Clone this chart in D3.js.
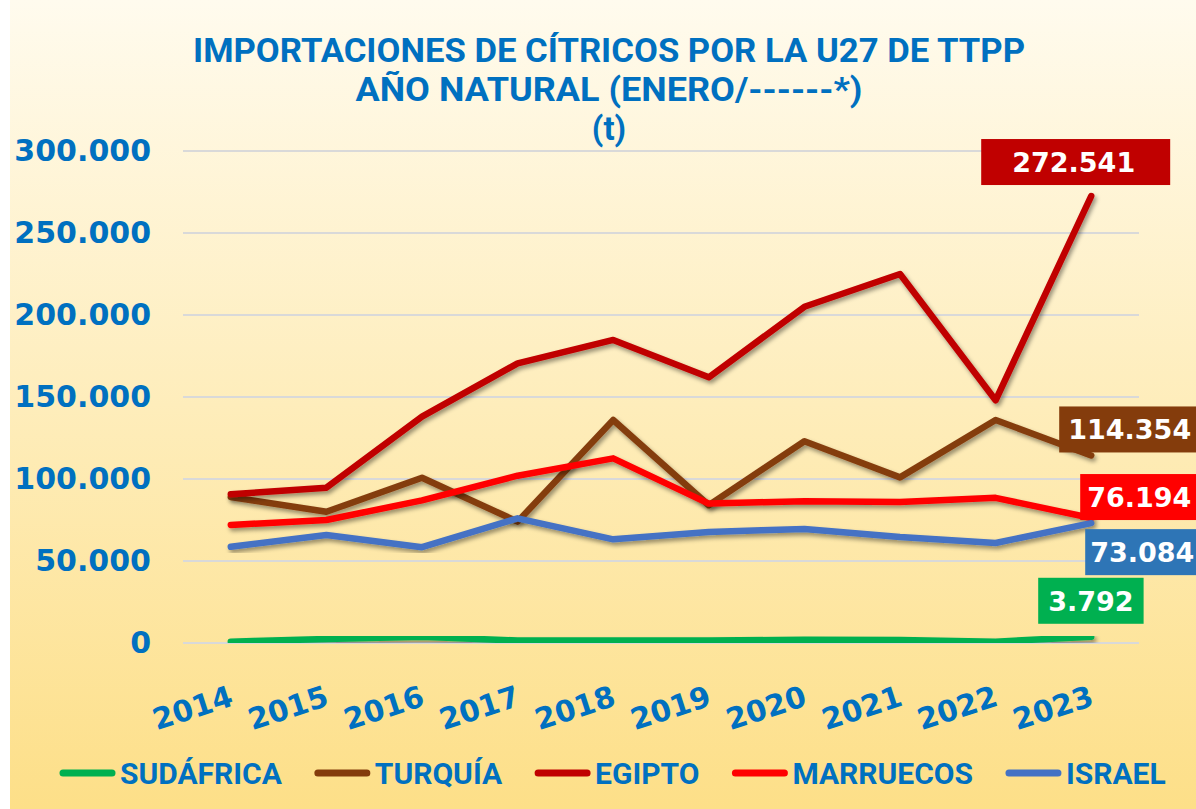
<!DOCTYPE html>
<html>
<head>
<meta charset="utf-8">
<script src="https://cdn.jsdelivr.net/npm/d3@7"></script>
<style>
  html, body { margin: 0; padding: 0; background: #fff; }
  svg { display: block; }
</style>
</head>
<body>
<svg id="chart" width="1196" height="809"></svg>
<script>
// Data
const years = ["2014", "2015", "2016", "2017", "2018", "2019", "2020", "2021", "2022", "2023"];
const seriesNames = ["SUDÁFRICA", "TURQUÍA", "EGIPTO", "MARRUECOS", "ISRAEL"];
const sudafrica = [800, 2500, 3800, 1500, 1500, 1500, 2000, 1800, 800, 3792];
const turquia = [89000, 80000, 100800, 74000, 136000, 84000, 123000, 101000, 136000, 114354];
const egipto = [90700, 94700, 138000, 170500, 184800, 162000, 205000, 225000, 148000, 272541];
const marruecos = [72000, 75000, 87000, 102000, 112600, 85000, 86500, 86000, 88500, 76194];
const israel = [58700, 65900, 58400, 76000, 63200, 67700, 69500, 64600, 61000, 73084];
const yTicks = [0, 50000, 100000, 150000, 200000, 250000, 300000];
const titleLines = ["IMPORTACIONES DE CÍTRICOS POR LA U27 DE TTPP", "AÑO NATURAL (ENERO/------*)", "(t)"];

const seriesValues = [sudafrica, turquia, egipto, marruecos, israel];
const lineColors = ["#00b050", "#843c0c", "#c00000", "#ff0000", "#4472c4"];
const boxColors = ["#00b050", "#843c0c", "#c00000", "#ff0000", "#2e75b6"];
// end label placement relative to last point: box left offset, top offset, paddings
const labelLayout = [
  { dx: -53, dy: -59, padL: 10, padR: 10 },
  { dx: -32, dy: -49, padL: 9, padR: 20 },
  { dx: -110, dy: -57, padL: 31, padR: 35 },
  { dx: -11, dy: -44, padL: 7, padR: 20 },
  { dx: -6, dy: 6, padL: 5, padR: 20 }
];
const titleWidths = [832, 507, null];

const W = 1196, H = 809;
const margin = { top: 151, right: 57, bottom: 166, left: 183 };
const innerW = W - margin.left - margin.right;
const innerH = H - margin.top - margin.bottom;
const blue = "#0070c0";

const svg = d3.select("#chart");
const defs = svg.append("defs");
const grad = defs.append("linearGradient").attr("id", "bg").attr("x1", 0).attr("y1", 0).attr("x2", 0).attr("y2", 1);
grad.append("stop").attr("offset", "0%").attr("stop-color", "#fffbee");
grad.append("stop").attr("offset", "100%").attr("stop-color", "#fddf88");
const shadow = defs.append("filter").attr("id", "shadow")
  .attr("x", "-10%").attr("y", "-10%").attr("width", "120%").attr("height", "130%");
shadow.append("feDropShadow").attr("dx", 2).attr("dy", 3).attr("stdDeviation", 2)
  .attr("flood-color", "#000").attr("flood-opacity", 0.4);

svg.append("rect").attr("x", 10).attr("y", 0).attr("width", W - 10).attr("height", H).attr("fill", "url(#bg)");

const locale = d3.formatLocale({ decimal: ",", thousands: ".", grouping: [3], currency: ["", " €"] });
const fmt = locale.format(",d");

const x = d3.scaleBand().domain(years).range([0, innerW]).padding(0);
const y = d3.scaleLinear().domain([0, 300000]).range([innerH, 0]);
const cx = (d) => x(d) + x.bandwidth() / 2;

const g = svg.append("g").attr("transform", `translate(${margin.left}, ${margin.top})`);

// gridlines
g.append("g")
  .selectAll("line")
  .data(yTicks)
  .join("line")
  .attr("x1", 0).attr("x2", innerW)
  .attr("y1", (d) => y(d)).attr("y2", (d) => y(d))
  .attr("stroke", "#d9d9d9").attr("stroke-width", 2);

// y axis labels
const yAxis = g.append("g")
  .call(d3.axisLeft(y).tickValues(yTicks).tickSize(0).tickPadding(32).tickFormat(fmt));
yAxis.select(".domain").remove();
yAxis.selectAll("text")
  .attr("font-family", "DejaVu Sans")
  .attr("font-weight", "bold")
  .attr("font-size", 30)
  .attr("fill", blue);

// x axis labels
g.append("g")
  .selectAll("text")
  .data(years)
  .join("text")
  .attr("transform", (d) => `translate(${cx(d) + 4}, ${innerH + 62}) rotate(-18)`)
  .attr("text-anchor", "end")
  .attr("font-family", "DejaVu Sans")
  .attr("font-weight", "bold")
  .attr("font-size", 29.5)
  .attr("fill", blue)
  .text((d) => d);

// lines
const line = d3.line().x((d, i) => cx(years[i])).y((d) => y(d));
g.append("g")
  .selectAll("path")
  .data(seriesValues)
  .join("path")
  .attr("d", (d) => line(d))
  .attr("fill", "none")
  .attr("stroke", (d, i) => lineColors[i])
  .attr("stroke-width", 6.5)
  .attr("stroke-linecap", "round")
  .attr("stroke-linejoin", "round")
  .attr("filter", "url(#shadow)");

// end labels
const last = years[years.length - 1];
seriesValues.forEach((vals, i) => {
  const v = vals[vals.length - 1];
  const L = labelLayout[i];
  const bx = cx(last) + L.dx;
  const by = y(v) + L.dy;
  const lg = g.append("g");
  const rect = lg.append("rect").attr("fill", boxColors[i]);
  const t = lg.append("text")
    .attr("x", bx + L.padL)
    .attr("y", by + 23)
    .attr("dy", "0.36em")
    .attr("font-family", "DejaVu Sans")
    .attr("font-weight", "bold")
    .attr("font-size", 27)
    .attr("fill", "#fff")
    .text(fmt(v));
  const tw = t.node().getComputedTextLength();
  rect.attr("x", bx).attr("y", by).attr("width", tw + L.padL + L.padR).attr("height", 46);
});

// title
svg.append("g")
  .selectAll("text")
  .data(titleLines)
  .join("text")
  .attr("x", 609)
  .attr("y", (d, i) => 62 + i * 39)
  .attr("text-anchor", "middle")
  .attr("font-family", "Roboto")
  .attr("font-weight", "bold")
  .attr("font-size", 33)
  .attr("fill", blue)
  .each(function (d, i) {
    if (titleWidths[i]) d3.select(this).attr("textLength", titleWidths[i]).attr("lengthAdjust", "spacingAndGlyphs");
  })
  .text((d) => d);

// legend
const legend = svg.append("g").attr("transform", "translate(60, 773)");
let lx = 0;
seriesNames.forEach((name, i) => {
  const item = legend.append("g").attr("transform", `translate(${lx}, 0)`);
  item.append("line")
    .attr("x1", 3).attr("x2", 52).attr("y1", 0).attr("y2", 0)
    .attr("stroke", lineColors[i]).attr("stroke-width", 7).attr("stroke-linecap", "round");
  const t = item.append("text")
    .attr("x", 60).attr("y", 0).attr("dy", "0.36em")
    .attr("font-family", "Roboto")
    .attr("font-weight", "bold")
    .attr("font-size", 30)
    .attr("fill", blue)
    .text(name);
  lx += 60 + t.node().getComputedTextLength() + 33;
});
</script>
</body>
</html>
